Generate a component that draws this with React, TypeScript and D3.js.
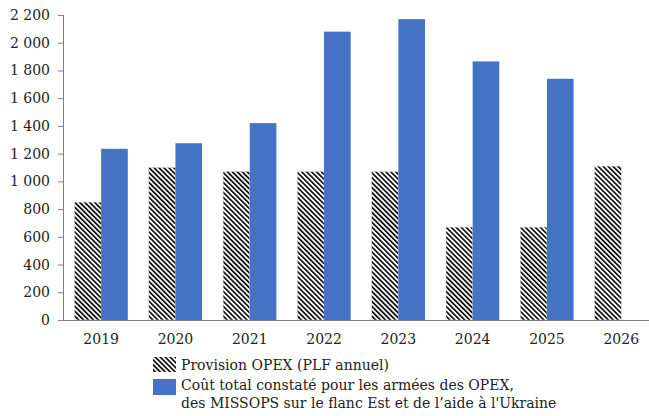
import React, { useEffect, useRef } from "react";
import * as d3 from "d3";

// years on the x axis
const years = ["2019", "2020", "2021", "2022", "2023", "2024", "2025", "2026"];
// Provision OPEX (PLF annuel), M€
const provision = [850, 1100, 1070, 1070, 1070, 670, 670, 1110];
// Coût total constaté (OPEX + MISSOPS flanc Est + aide à l'Ukraine), M€ – nothing for 2026
const coutTotal: (number | null)[] = [1235, 1275, 1420, 2080, 2170, 1865, 1740, null];
const yTicks = [0, 200, 400, 600, 800, 1000, 1200, 1400, 1600, 1800, 2000, 2200];
const legendLabels = [
  ["Provision OPEX (PLF annuel)"],
  ["Coût total constaté pour les armées des OPEX,", "des MISSOPS sur le flanc Est et de l\u2019aide à l'Ukraine"],
];

const FONT = "'DejaVu Serif', serif";
const FS = 14;
const BLUE = "#4472C4";

export default function App() {
  const ref = useRef<SVGSVGElement>(null);

  useEffect(() => {
    const svg = d3.select(ref.current);
    svg.selectAll("*").remove();

    const W = 649;
    const left = 64, bottom = 320, top = 15;
    const step = 74.3;

    // hatch pattern
    svg.append("defs")
      .append("pattern")
      .attr("id", "hatch")
      .attr("patternUnits", "userSpaceOnUse")
      .attr("width", 3.5)
      .attr("height", 10)
      .attr("patternTransform", "rotate(-45)")
      .call(p => p.append("rect").attr("width", 3.5).attr("height", 10).attr("fill", "#fff"))
      .call(p => p.append("rect").attr("width", 1.6).attr("height", 10).attr("fill", "#000"));

    const x0 = d3.scaleBand<string>()
      .domain(years)
      .range([left, left + step * years.length])
      .paddingInner(0.283)
      .paddingOuter(0.1415);

    const x1 = d3.scaleBand<string>()
      .domain(["prov", "cout"])
      .range([0, x0.bandwidth()]);

    const y = d3.scaleLinear().domain([0, 2200]).range([bottom, top]);

    const g = svg.append("g");

    // provision bars (hatched)
    g.selectAll(".prov")
      .data(years)
      .join("rect")
      .attr("class", "prov")
      .attr("x", d => x0(d)! + x1("prov")!)
      .attr("y", (d, i) => y(provision[i]))
      .attr("width", x1.bandwidth())
      .attr("height", (d, i) => y(0) - y(provision[i]))
      .attr("fill", "url(#hatch)")
      .attr("stroke", "#d0d0d0")
      .attr("stroke-width", 0.5);

    // total cost bars (blue)
    g.selectAll(".cout")
      .data(years.filter((d, i) => coutTotal[i] != null))
      .join("rect")
      .attr("class", "cout")
      .attr("x", d => x0(d)! + x1("cout")!)
      .attr("y", d => y(coutTotal[years.indexOf(d)]!))
      .attr("width", x1.bandwidth())
      .attr("height", d => y(0) - y(coutTotal[years.indexOf(d)]!))
      .attr("fill", BLUE);

    // y axis
    const yAxis = g.append("g")
      .attr("transform", `translate(${left},0)`)
      .call(
        d3.axisLeft(y)
          .tickValues(yTicks)
          .tickSize(6)
          .tickPadding(8)
          .tickFormat(d => d3.format(",")(d as number).replace(/,/g, " "))
      );
    yAxis.select(".domain").attr("stroke", "#808080").attr("d", `M-0.5,${top}V${bottom}`);
    yAxis.selectAll(".tick line").attr("stroke", "#808080");
    yAxis.selectAll(".tick text")
      .attr("font-family", FONT)
      .attr("font-size", FS)
      .attr("fill", "#222");

    // x axis
    const xAxis = g.append("g")
      .attr("transform", `translate(0,${bottom})`)
      .call(d3.axisBottom(x0).tickSize(0).tickPadding(14));
    xAxis.select(".domain").attr("stroke", "#808080").attr("d", `M${left - 6},0.5H${W}`);
    xAxis.selectAll(".tick text")
      .attr("font-family", FONT)
      .attr("font-size", FS)
      .attr("fill", "#222");

    // legend
    const lg = svg.append("g");
    lg.append("rect").attr("x", 153).attr("y", 357).attr("width", 23).attr("height", 15)
      .attr("fill", "url(#hatch)");
    lg.append("rect").attr("x", 153).attr("y", 379).attr("width", 23).attr("height", 16)
      .attr("fill", BLUE);
    const baselines = [[370], [390, 408]];
    legendLabels.forEach((lines, i) => {
      lines.forEach((t, j) => {
        lg.append("text")
          .attr("x", 181)
          .attr("y", baselines[i][j])
          .attr("font-family", FONT)
          .attr("font-size", FS)
          .attr("fill", "#222")
          .text(t);
      });
    });
  }, []);

  return (
    <svg
      ref={ref}
      width={649}
      height={416}
      style={{ position: "absolute", left: 0, top: 0, background: "#fff" }}
    />
  );
}
